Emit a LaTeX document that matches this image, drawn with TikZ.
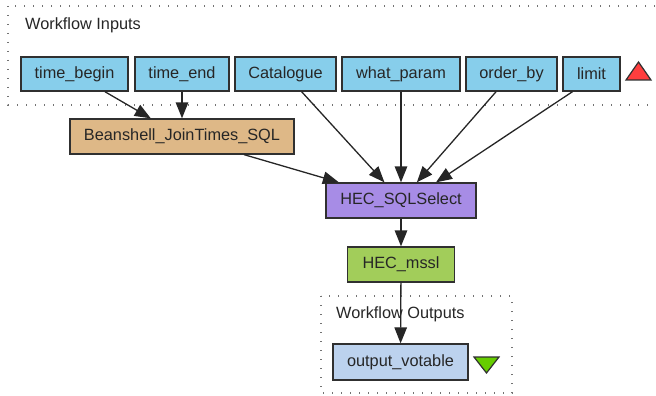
\documentclass[tikz,border=0pt]{standalone}
\usepackage{fontspec}
\setmainfont{Liberation Sans}
\usetikzlibrary{arrows.meta,calc}
\definecolor{inblue}{HTML}{87CEEB}
\definecolor{beanc}{HTML}{DEB887}
\definecolor{sqlc}{HTML}{A78CE6}
\definecolor{msslc}{HTML}{A2CD5A}
\definecolor{outc}{HTML}{BCD2EE}
\definecolor{redtri}{HTML}{FF3E3E}
\definecolor{greentri}{HTML}{66CD00}
\definecolor{edgec}{HTML}{303030}
\tikzset{
  box/.style={draw=edgec, line width=1.3pt, inner sep=0pt, minimum height=34pt,
    font=\fontsize{16.3}{19}\selectfont, text=black!85},
  inport/.style={box, fill=inblue},
  conn/.style={draw=black!85, line width=1.3pt, -{Triangle[length=16pt,width=12.5pt]}},
  group/.style={draw=black!55, line width=1.6pt, dash pattern=on 1.4pt off 7.6pt},
  grouplabel/.style={anchor=west, inner sep=0pt, font=\fontsize{16.3}{19}\selectfont, text=black!85},
  tri/.style={draw=edgec, line width=1.2pt}
}
\begin{document}
\begin{tikzpicture}[x=1pt,y=-1pt]
\useasboundingbox (0,0) rectangle (656,396);
% groups
\draw[group] (8,6) rectangle (660,105);
\node[grouplabel] (inlbl) at (25,25.5) {Workflow Inputs};
\draw[group] (321,296) rectangle (512,393);
\node[grouplabel] (outlbl) at (336,314) {Workflow Outputs};
% inputs
\node[inport, minimum width=107pt] (tb) at (74.5,74) {time\_begin};
\node[inport, minimum width=94pt] (te) at (182,74) {time\_end};
\node[inport, minimum width=101pt] (cat) at (285.5,74) {Catalogue};
\node[inport, minimum width=118pt] (wp) at (401,74) {what\_param};
\node[inport, minimum width=91pt] (ob) at (511.5,74) {order\_by};
\node[inport, minimum width=57pt] (lim) at (591.5,74) {limit};
% processors
\node[box, fill=beanc, minimum width=224pt, minimum height=35pt] (bs) at (182,136.5) {Beanshell\_JoinTimes\_SQL};
\node[box, fill=sqlc, minimum width=150pt, minimum height=35pt] (sql) at (401,200.5) {HEC\_SQLSelect};
\node[box, fill=msslc, minimum width=107pt, minimum height=35pt] (mssl) at (401,264.5) {HEC\_mssl};
\node[box, fill=outc, minimum width=135pt, minimum height=36pt] (out) at (400.5,362) {output\_votable};
% triangles
\draw[tri, fill=redtri] (626,80) -- (651,80) -- (638.5,62) -- cycle;
\draw[tri, fill=greentri] (474,357) -- (499,357) -- (486.5,373) -- cycle;
% connectors
\draw[conn] (tb) -- (bs);
\draw[conn] (te) -- (bs);
\draw[conn] (cat) -- (sql);
\draw[conn] (bs) -- (sql);
\draw[conn] (wp) -- (sql);
\draw[conn] (ob) -- (sql);
\draw[conn] ($(lim.south)+(-19,0)$) -- ($(sql.north)+(35,0)$);
\draw[conn] (sql) -- (mssl);
\draw[conn] (mssl) -- (out);
\end{tikzpicture}
\end{document}
